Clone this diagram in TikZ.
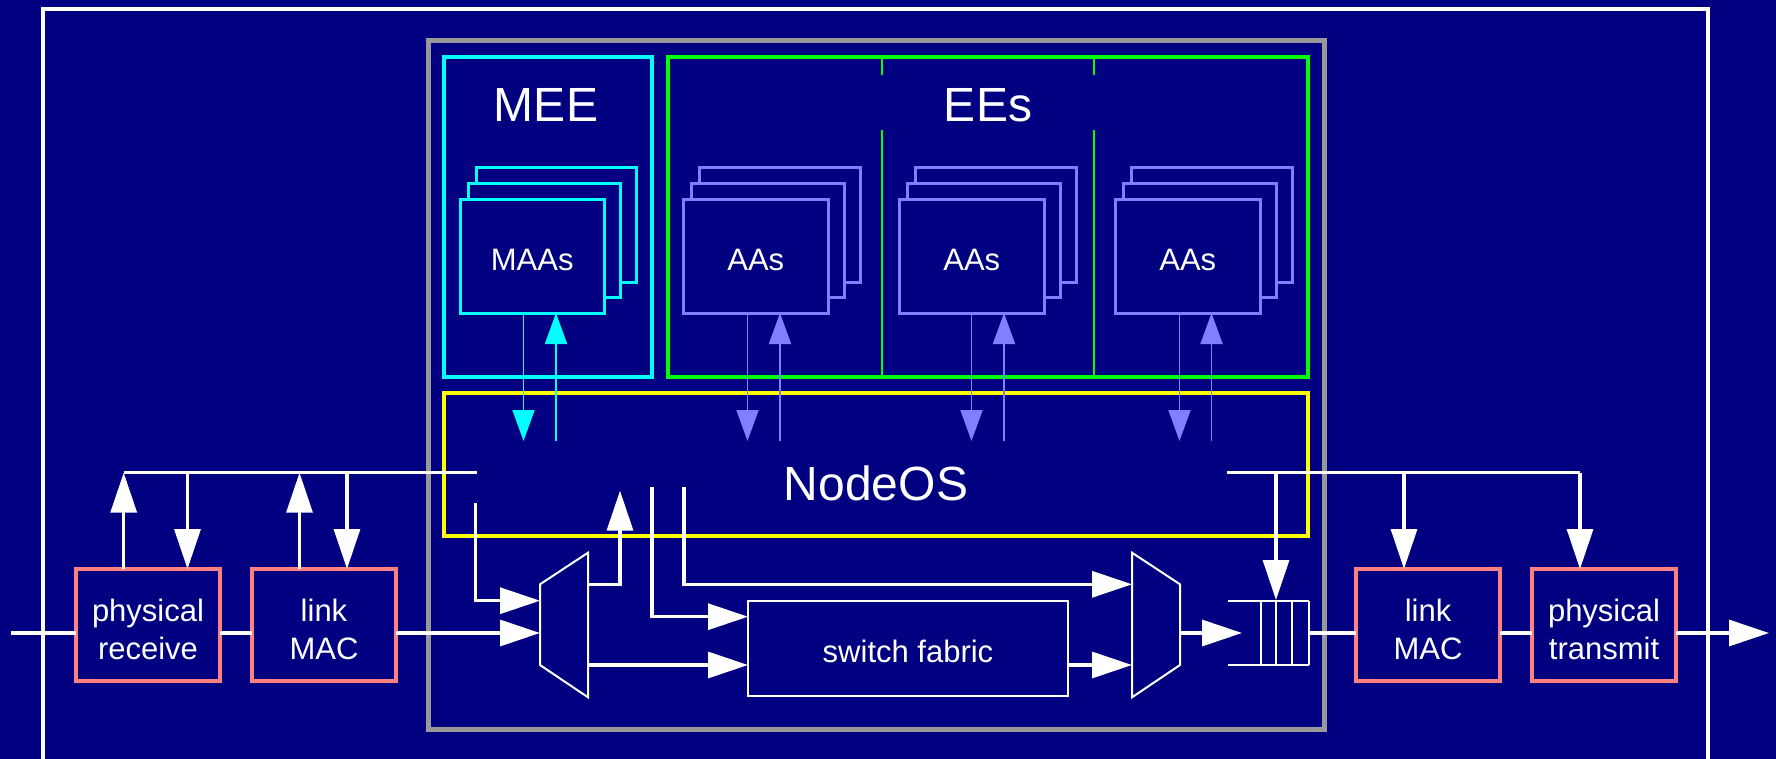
\documentclass[tikz,border=0pt]{standalone}
\usepackage{fontspec}
\setmainfont{Liberation Sans}
\usetikzlibrary{arrows.meta}

\definecolor{navybg}{HTML}{000080}
\definecolor{framegray}{HTML}{999999}
\definecolor{eecyan}{HTML}{00FFFF}
\definecolor{eegreen}{HTML}{00FF00}
\definecolor{osyellow}{HTML}{FFFF00}
\definecolor{aablue}{HTML}{8080FF}
\definecolor{linkred}{HTML}{FF8080}

\tikzset{
  every node/.style={inner sep=0pt, outer sep=0pt, text=white},
  bigfont/.style={font=\fontsize{48}{56}\selectfont},
  smallfont/.style={font=\fontsize{31}{38}\selectfont},
  panel/.style={draw, rectangle, line width=3.5pt},
  hwbox/.style={draw=linkred, fill=navybg, rectangle, line width=4pt,
    minimum width=144pt, minimum height=112pt},
  hwtext/.style={align=center, smallfont},
  layer/.style={draw=#1, fill=navybg, rectangle, line width=3pt},
  conn/.style={draw=white, line width=3.3pt},
  fine/.style={draw=white, line width=2pt},
  apiline/.style={draw=#1, line width=1.8pt},
  bigtip/.tip={Triangle[length=40pt,width=26pt]},
  smalltip/.tip={Triangle[length=31pt,width=22pt]},
}

% a stack of three application boxes; #1 name, #2 left edge, #3 colour, #4 label
\newcommand{\appstack}[4]{%
  \node[layer=#3, minimum width=160.5pt, minimum height=114pt] (#1back) at (#2+96.25,225) {};
  \node[layer=#3, minimum width=152.5pt, minimum height=113pt] (#1mid) at (#2+84.25,240.5) {};
  \node[layer=#3, minimum width=144.5pt, minimum height=113pt] (#1) at (#2+72.25,256.5) {};
  \node[smallfont] (#1text) at (#2+72.25,259.5) {#4};
}

\begin{document}
\begin{tikzpicture}[x=1pt, y=-1pt]
  \useasboundingbox (0,0) rectangle (1776,759);
  \fill[navybg] (0,0) rectangle (1776,759);

  % node enclosure and router core
  \draw[white, line width=4.5pt] (43,785) -- (43,9) -- (1708,9) -- (1708,785);
  \node[panel, draw=framegray, line width=5pt, minimum width=896pt, minimum height=688pt] (core) at (876,385) {};

  % execution environments
  \node[panel, draw=eecyan, minimum width=208pt, minimum height=320pt] (mee) at (548,217) {};
  \node[panel, draw=eegreen, minimum width=640pt, minimum height=320pt] (ees) at (988,217) {};
  \node[bigfont] (meelabel) at (546,105) {MEE};
  \node[bigfont] (eeslabel) at (988,105) {EEs};
  \foreach \dx in {882,1094} {
    \draw[eegreen, line width=2.2pt] (\dx,57) -- (\dx,75);
    \draw[eegreen, line width=2.2pt] (\dx,130) -- (\dx,377);
  }

  % application stacks
  \appstack{maa}{460}{eecyan}{MAAs}
  \appstack{aaA}{683.5}{aablue}{AAs}
  \appstack{aaB}{899.5}{aablue}{AAs}
  \appstack{aaC}{1115.5}{aablue}{AAs}

  % node operating system
  \node[panel, draw=osyellow, minimum width=864pt, minimum height=143pt] (nodeos) at (876,464.5) {};
  \node[bigfont] (oslabel) at (876,483.5) {NodeOS};

  % calls between applications and the NodeOS
  \coordinate (maadn) at (523.5,441);  \coordinate (maaup) at (556,441);
  \coordinate (aaAdn) at (747.5,441);  \coordinate (aaAup) at (780,441);
  \coordinate (aaBdn) at (971.5,441);  \coordinate (aaBup) at (1004,441);
  \coordinate (aaCdn) at (1179.5,441); \coordinate (aaCup) at (1211.5,441);
  \draw[apiline=eecyan, -smalltip] (maadn |- maa.south) -- (maadn);
  \draw[apiline=eecyan, -smalltip] (maaup) -- (maaup |- maa.south);
  \foreach \s in {aaA,aaB,aaC} {
    \draw[apiline=aablue, -smalltip] (\s dn |- \s.south) -- (\s dn);
    \draw[apiline=aablue, -smalltip] (\s up) -- (\s up |- \s.south);
  }

  % link-level hardware
  \node[hwbox] (prx) at (148,625) {};
  \node[hwbox] (macin) at (324,625) {};
  \node[hwbox] (macout) at (1428,625) {};
  \node[hwbox] (ptx) at (1604,625) {};
  \node[hwtext] (prxtext) at (148,629) {physical\\receive};
  \node[hwtext] (macintext) at (324,629) {link\\MAC};
  \node[hwtext] (macouttext) at (1428,629) {link\\MAC};
  \node[hwtext] (ptxtext) at (1604,629) {physical\\transmit};

  % switching hardware
  \node[draw=white, line width=2pt, rectangle, minimum width=320pt, minimum height=95.3pt]
    (fabric) at (908,648.4) {};
  \node[smallfont] (fabrictext) at (908,651.5) {switch fabric};
  \draw[fine] (540,584.3) coordinate (dmuxA) -- (588,552.7) -- (588,697.3) -- (540,665) coordinate (dmuxB) -- cycle;
  \draw[fine] (1132,552.7) -- (1180,584.3) coordinate (muxA) -- (1180,665) coordinate (muxB) -- (1132,697.3) -- cycle;
  \coordinate (muxout) at (1180,633);
  \coordinate (qin) at (1242,633);
  \coordinate (qout) at (1308.5,633);
  \draw[fine] (1227.5,600.7) -- (1308.5,600.7) (1227.5,664.7) -- (1308.5,664.7);
  \foreach \qx in {1260.5,1276,1292.3,1308.5}
    \draw[fine] (\qx,600.7) -- (\qx,664.7);

  % control buses
  \coordinate (busLa) at (123.7,472.7);
  \coordinate (busLb) at (187.5,472.7);
  \coordinate (busLc) at (299.5,472.7);
  \coordinate (busLd) at (347,472.7);
  \coordinate (busLe) at (476.7,472.7);
  \coordinate (busRa) at (1227,472.7);
  \coordinate (busRb) at (1276,472.7);
  \coordinate (busRc) at (1404,472.7);
  \coordinate (busRd) at (1580,472.7);
  \draw[conn] (busLa) -- (busLe);
  \draw[conn] (busRa) -- (busRd);
  \draw[conn, -bigtip] (prx.north -| busLa) -- (busLa);
  \draw[conn, -bigtip] (busLb) -- (busLb |- prx.north);
  \draw[conn, -bigtip] (macin.north -| busLc) -- (busLc);
  \draw[conn, -bigtip] (busLd) -- (busLd |- macin.north);
  \draw[conn, -bigtip] (busRb) -- (1276,600);
  \draw[conn, -bigtip] (busRc) -- (busRc |- macout.north);
  \draw[conn, -bigtip] (busRd) -- (busRd |- ptx.north);

  % packet path
  \coordinate (wirein) at (11,633);
  \coordinate (wireout) at (1769,633);
  \coordinate (fabin) at (652,616.7);
  \draw[conn] (wirein) -- (wirein -| prx.west);
  \draw[conn] (prx.east |- wirein) -- (macin.west |- wirein);
  \draw[conn, -bigtip] (macin.east |- wirein) -- (wirein -| dmuxA);
  \draw[conn, -bigtip] (475.7,503) -- (475.7,600.7) -- (540,600.7);
  \draw[conn, -bigtip] (588,584.3) -- (620,584.3) -- (620,490.7);
  \draw[conn, -bigtip] (588,665) -- (dmuxB -| fabric.west);
  \draw[conn, -bigtip] (652,487) -- (fabin) -- (fabin -| fabric.west);
  \draw[conn, -bigtip] (684,487) -- (684,584.3) -- (1132,584.3);
  \draw[conn, -bigtip] (fabric.east |- muxB) -- (1132,665);
  \draw[conn, -bigtip] (muxout) -- (qin);
  \draw[conn] (qout) -- (qout -| macout.west);
  \draw[conn] (macout.east |- wirein) -- (ptx.west |- wirein);
  \draw[conn, -bigtip] (ptx.east |- wirein) -- (wireout);
\end{tikzpicture}
\end{document}
